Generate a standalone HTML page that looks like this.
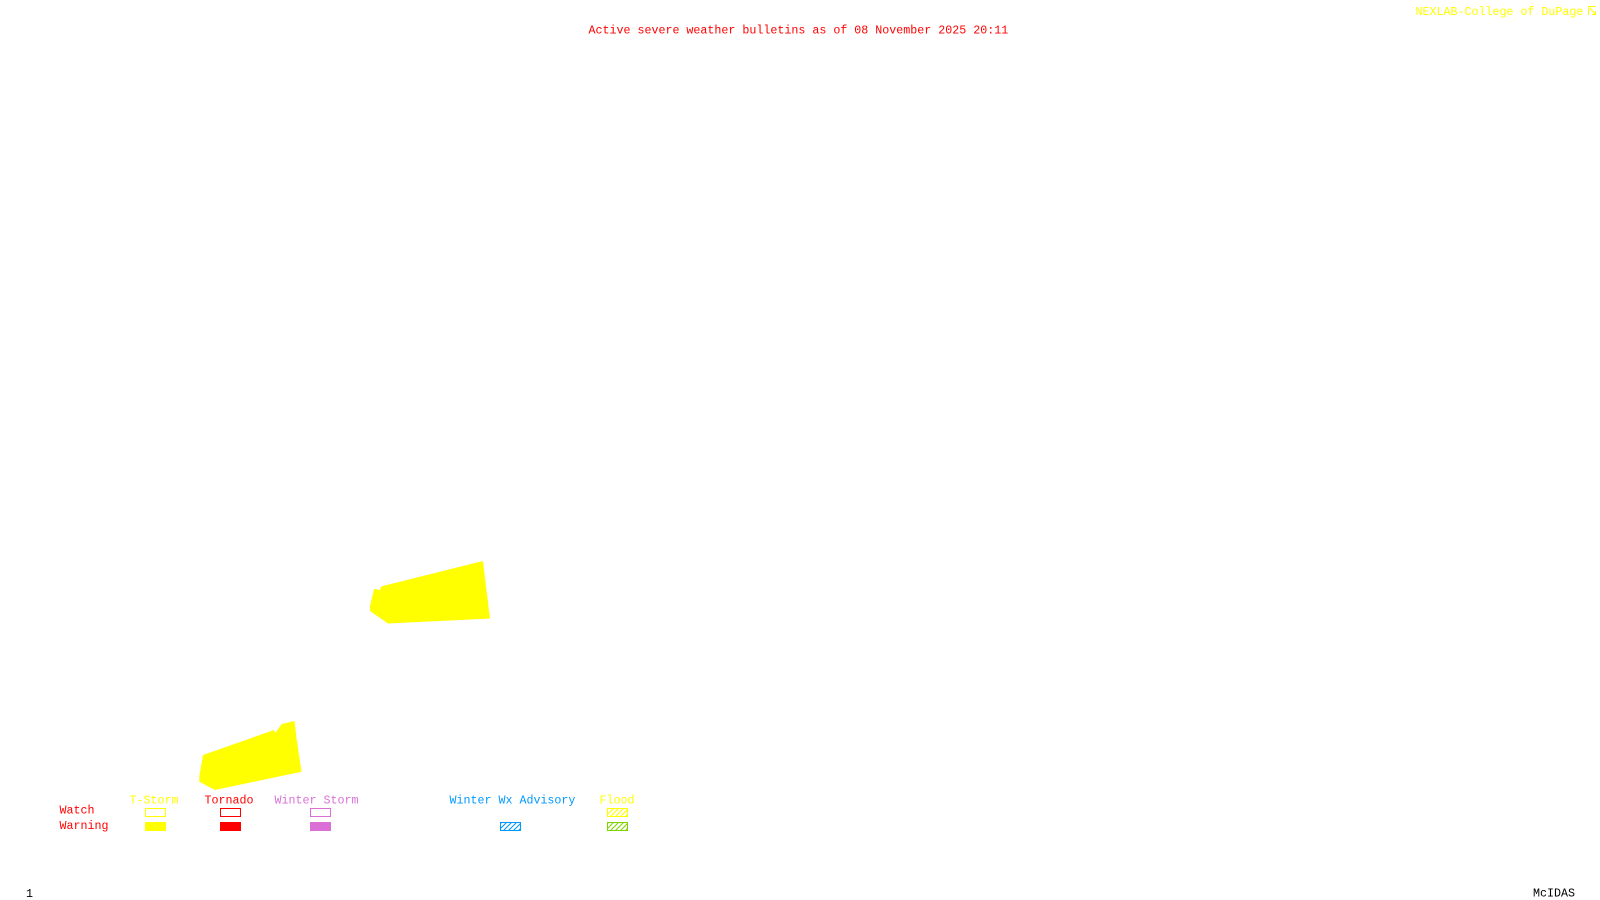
<!DOCTYPE html>
<html>
<head>
<meta charset="utf-8">
<title>Active severe weather bulletins</title>
<style>
html,body{margin:0;padding:0;background:#fff;width:1600px;height:900px;overflow:hidden}
svg{display:block;position:absolute;left:0;top:0}
text{font-family:"Liberation Mono",monospace;font-size:11.67px;white-space:pre}
</style>
</head>
<body>
<svg width="1600" height="900" viewBox="0 0 1600 900" xmlns="http://www.w3.org/2000/svg">
<defs>
<pattern id="hy" width="5" height="5" patternUnits="userSpaceOnUse" patternTransform="translate(608 809)">
<path d="M-1 6L6 -1M-1 1L1 -1M4 6L6 4" stroke="#ffff00" stroke-width="1.1" fill="none"/>
</pattern>
<pattern id="hg" width="5" height="5" patternUnits="userSpaceOnUse" patternTransform="translate(608 823)">
<path d="M-1 6L6 -1M-1 1L1 -1M4 6L6 4" stroke="#7fd400" stroke-width="1.1" fill="none"/>
</pattern>
<pattern id="hb" width="5" height="5" patternUnits="userSpaceOnUse" patternTransform="translate(501 823)">
<path d="M-1 6L6 -1M-1 1L1 -1M4 6L6 4" stroke="#0099ff" stroke-width="1.1" fill="none"/>
</pattern>
</defs>
<rect width="1600" height="900" fill="#fff"/>

<text x="1415.5" y="15" fill="#ffff00">NEXLAB-College of DuPage</text>
<path d="M1595.5 6.5H1588.5V15M1590 8L1595.5 14.5M1595.5 11V14.5H1592" fill="none" stroke="#ffff00" stroke-width="1"/>
<text x="588.5" y="33.5" fill="#ff0000">Active severe weather bulletins as of 08 November 2025 20:11</text>

<polygon points="374,589 380,590 381,586.5 483,561 485.5,582 490,618.5 388,623.5 370,611 370,606" fill="#ffff00"/>
<polygon points="203,755 274,730 275.5,732.7 281.7,724 294.5,721 296.5,738 301.5,771.7 215,790 199.3,781.7 199.3,776.7" fill="#ffff00"/>

<text x="129.5" y="803.5" fill="#ffff00">T-Storm</text>
<text x="204.5" y="803.5" fill="#ff0000">Tornado</text>
<text x="274.5" y="803.5" fill="#da70d6">Winter Storm</text>
<text x="449.5" y="803.5" fill="#0099ff">Winter Wx Advisory</text>
<text x="599.5" y="803.5" fill="#ffff00">Flood</text>
<text x="59.5" y="813.5" fill="#ff0000">Watch</text>
<text x="59.5" y="829" fill="#ff0000">Warning</text>

<g shape-rendering="crispEdges">
<rect x="145.5" y="808.5" width="20" height="8" fill="#fff" stroke="#ffff00"/>
<rect x="145" y="822" width="21" height="9" fill="#ffff00"/>
<rect x="220.5" y="808.5" width="20" height="8" fill="#fff" stroke="#ff0000"/>
<rect x="220" y="822" width="21" height="9" fill="#ff0000"/>
<rect x="310.5" y="808.5" width="20" height="8" fill="#fff" stroke="#da70d6"/>
<rect x="310" y="822" width="21" height="9" fill="#da70d6"/>
</g>
<rect x="500.5" y="822.5" width="20" height="8" fill="url(#hb)" stroke="#0099ff"/>
<rect x="607.5" y="808.5" width="20" height="8" fill="url(#hy)" stroke="#ffff00"/>
<rect x="607.5" y="822.5" width="20" height="8" fill="url(#hg)" stroke="#7fd400"/>

<text x="26" y="897" fill="#000">1</text>
<text x="1533" y="896.5" fill="#000">McIDAS</text>
</svg>
</body>
</html>
